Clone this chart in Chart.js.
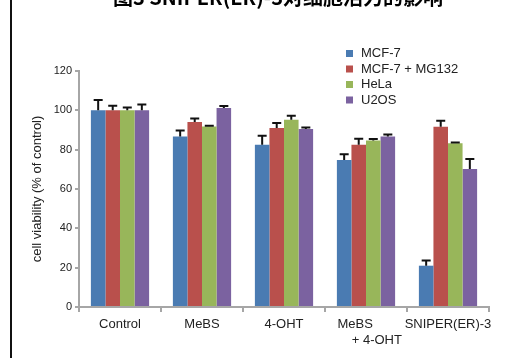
<!DOCTYPE html>
<html>
<head>
<meta charset="utf-8">
<script src="https://cdn.jsdelivr.net/npm/chart.js@4"></script>
<style>
    html, body { margin: 0; padding: 0; background: #fff; }
    #wrap { position: relative; width: 514px; height: 358px; overflow: hidden; }
    #frame { position: absolute; left: 10px; top: 0; width: 2px; height: 358px; background: #111; }
</style>
</head>
<body>
<div id="wrap">
    <canvas id="chart" width="514" height="358"></canvas>
    <div id="frame"></div>
</div>
<script>
// data
const titleText = '图3 SNIPER(ER)-3对细胞活力的影响';
const categories = ['Control', 'MeBS', '4-OHT', ['MeBS      ', '      + 4-OHT'], 'SNIPER(ER)-3'];
const seriesNames = ['MCF-7', 'MCF-7 + MG132', 'HeLa', 'U2OS'];
const seriesColors = ['#4a7bb2', '#b9504c', '#98b65a', '#7b62a0'];

const mcf7 = [100, 86.7, 82.5, 74.7, 21];
const mcf7Mg132 = [100, 94.1, 91, 82.5, 91.7];
const hela = [100, 91.8, 95.2, 84.7, 83.3];
const u2os = [100, 101.2, 90.5, 86.7, 70.2];

const mcf7Err = [5.3, 3, 4.6, 3, 2.7];
const mcf7Mg132Err = [2.3, 1.7, 2.6, 3, 3];
const helaErr = [1.4, 0.3, 2, 0.7, 0.3];
const u2osErr = [3, 1, 0.8, 1, 5.1];

const yTicks = [0, 20, 40, 60, 80, 100, 120];

const values = [mcf7, mcf7Mg132, hela, u2os];
const errors = [mcf7Err, mcf7Mg132Err, helaErr, u2osErr];

const textColor = '#222';
const axisColor = '#a6a6a6';

// upward error bars with caps
const errorBars = {
    id: 'errorBars',
    afterDatasetsDraw(chart) {
        const ctx = chart.ctx;
        const y = chart.scales.y;
        ctx.save();
        ctx.strokeStyle = '#111';
        ctx.lineWidth = 2;
        chart.data.datasets.forEach((ds, i) => {
            const meta = chart.getDatasetMeta(i);
            meta.data.forEach((bar, j) => {
                const top = y.getPixelForValue(ds.data[j] + errors[i][j]);
                ctx.beginPath();
                ctx.moveTo(bar.x, bar.y);
                ctx.lineTo(bar.x, top);
                ctx.moveTo(bar.x - 4.5, top);
                ctx.lineTo(bar.x + 4.5, top);
                ctx.stroke();
            });
        });
        ctx.restore();
    }
};

// legend stacked in the upper right, title clipped at the top edge
const decorations = {
    id: 'decorations',
    afterDraw(chart) {
        const ctx = chart.ctx;
        ctx.save();
        ctx.fillStyle = '#000';
        ctx.font = 'bold 20px "Noto Sans CJK SC", "Liberation Sans", sans-serif';
        ctx.textAlign = 'center';
        ctx.textBaseline = 'alphabetic';
        ctx.fillText(titleText, 278, 5);

        ctx.font = '13px "Liberation Sans", Arial, sans-serif';
        ctx.textAlign = 'left';
        ctx.textBaseline = 'middle';
        chart.data.datasets.forEach((ds, i) => {
            const cy = 53.5 + i * 15.5;
            ctx.fillStyle = ds.backgroundColor;
            ctx.fillRect(346, cy - 3.5, 7, 7);
            ctx.fillStyle = textColor;
            ctx.fillText(ds.label, 361, cy);
        });
        ctx.restore();
    }
};

new Chart(document.getElementById('chart').getContext('2d'), {
    type: 'bar',
    data: {
        labels: categories,
        datasets: seriesNames.map((name, i) => ({
            label: name,
            data: values[i],
            backgroundColor: seriesColors[i],
            borderWidth: 0,
            categoryPercentage: 0.71,
            barPercentage: 1.0
        }))
    },
    options: {
        responsive: false,
        animation: false,
        layout: {
            padding: { left: 30, right: 25, top: 71, bottom: 6 }
        },
        plugins: {
            legend: { display: false },
            title: { display: false },
            tooltip: { enabled: false }
        },
        scales: {
            x: {
                grid: {
                    display: true,
                    drawOnChartArea: false,
                    drawTicks: true,
                    tickLength: 5,
                    color: axisColor,
                    lineWidth: 2
                },
                border: { color: axisColor, width: 2 },
                ticks: {
                    color: textColor,
                    padding: 5,
                    maxRotation: 0,
                    autoSkip: false,
                    font: { family: '"Liberation Sans", Arial, sans-serif', size: 13, lineHeight: 1.2 }
                },
                afterFit(scale) { scale.height = 45; }
            },
            y: {
                min: 0,
                max: 120,
                afterBuildTicks(scale) {
                    scale.ticks = yTicks.map(v => ({ value: v }));
                },
                grid: {
                    display: true,
                    drawOnChartArea: false,
                    drawTicks: true,
                    tickLength: 4,
                    color: axisColor,
                    lineWidth: 2
                },
                border: { color: axisColor, width: 2 },
                ticks: {
                    color: textColor,
                    padding: 3,
                    font: { family: '"Liberation Sans", Arial, sans-serif', size: 11 }
                },
                title: {
                    display: true,
                    text: 'cell viability (% of control)',
                    color: textColor,
                    padding: 0,
                    font: { family: '"Liberation Sans", Arial, sans-serif', size: 13 }
                },
                afterFit(scale) { scale.width = 49; }
            }
        }
    },
    plugins: [errorBars, decorations]
});
</script>
</body>
</html>
